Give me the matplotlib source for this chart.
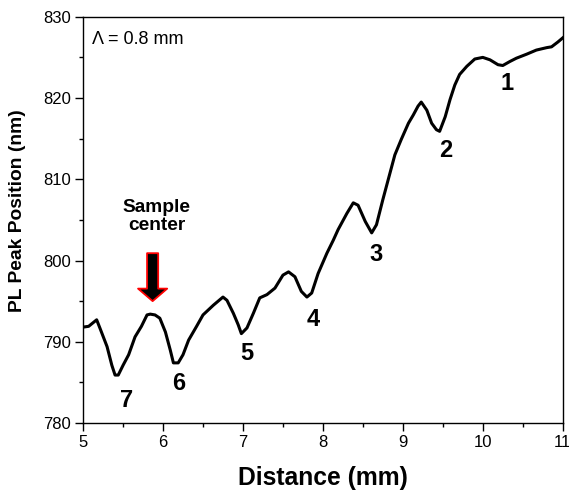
import numpy as np
import matplotlib
matplotlib.use("Agg")
import matplotlib.pyplot as plt
from matplotlib.ticker import MultipleLocator

plt.rcParams['font.family'] = ['Liberation Sans', 'DejaVu Sans']

# PL peak position vs distance
distance = [5.00, 5.07, 5.17, 5.21, 5.30, 5.36, 5.40, 5.44, 5.50, 5.57, 5.65, 5.73,
            5.80, 5.84, 5.90, 5.96, 6.03, 6.09, 6.13, 6.19, 6.25, 6.32, 6.42, 6.50,
            6.63, 6.75, 6.80, 6.88, 6.94, 6.98, 7.05, 7.13, 7.21, 7.30, 7.40, 7.50,
            7.57, 7.65, 7.73, 7.80, 7.86, 7.94, 8.05, 8.13, 8.19, 8.30, 8.38, 8.44,
            8.53, 8.61, 8.67, 8.75, 8.84, 8.90, 8.98, 9.07, 9.13, 9.19, 9.23, 9.30,
            9.36, 9.42, 9.46, 9.53, 9.59, 9.65, 9.71, 9.80, 9.90, 10.00, 10.09, 10.19,
            10.25, 10.34, 10.42, 10.55, 10.67, 10.80, 10.86, 10.94, 11.00]
peak_nm = [791.8, 791.9, 792.7, 791.7, 789.4, 787.1, 785.9, 785.9, 787.1, 788.4, 790.6, 791.9,
           793.3, 793.4, 793.3, 792.9, 791.2, 789.0, 787.4, 787.4, 788.4, 790.2, 791.9, 793.3,
           794.5, 795.5, 795.1, 793.5, 792.1, 791.0, 791.7, 793.5, 795.4, 795.8, 796.6, 798.2,
           798.6, 798.0, 796.2, 795.5, 796.0, 798.4, 800.9, 802.5, 803.8, 805.8, 807.1, 806.8,
           804.8, 803.4, 804.4, 807.5, 810.8, 813.0, 814.9, 816.9, 817.9, 819.0, 819.5, 818.5,
           816.9, 816.1, 815.9, 817.7, 819.8, 821.6, 822.9, 823.9, 824.8, 825.0, 824.7, 824.1,
           824.0, 824.5, 824.9, 825.4, 825.9, 826.2, 826.3, 826.9, 827.4]

# minima labels
label_text = ['1', '2', '3', '4', '5', '6', '7']
label_x = [10.30, 9.54, 8.66, 7.88, 7.05, 6.20, 5.55]
label_y = [821.8, 813.6, 800.7, 792.7, 788.6, 784.9, 782.8]

fig = plt.figure(figsize=(5.69, 4.93), dpi=100)
ax = fig.add_axes([0.146, 0.142, 0.843, 0.824])

ax.plot(distance, peak_nm, color='k', linewidth=2.2)

ax.set_xlim(5, 11)
ax.set_ylim(780, 830)
ax.xaxis.set_major_locator(MultipleLocator(1))
ax.xaxis.set_minor_locator(MultipleLocator(0.5))
ax.yaxis.set_major_locator(MultipleLocator(10))
ax.yaxis.set_minor_locator(MultipleLocator(5))
ax.tick_params(which='major', direction='out', length=5.5, width=1, labelsize=12, pad=3)
ax.tick_params(which='minor', direction='out', length=3, width=1)
for s in ax.spines.values():
    s.set_linewidth(1)

ax.set_xlabel('Distance (mm)', fontsize=17.7, fontweight='bold', labelpad=12)
ax.set_ylabel('PL Peak Position (nm)', fontsize=13.9, fontweight='bold')
ax.yaxis.set_label_coords(-0.118, 0.522)

for t, x, y in zip(label_text, label_x, label_y):
    ax.text(x, y, t, fontsize=17, fontweight='bold', ha='center', va='center')

ax.text(5.11, 827.2, '\u039b = 0.8 mm', fontsize=13, ha='left', va='center')

# sample center arrow
ax.text(5.917, 805.4, 'Sample\ncenter', fontsize=13.8, fontweight='bold',
        ha='center', va='center', linespacing=1.05)
ax.annotate('', xy=(5.87, 795.0), xytext=(5.87, 800.9),
            arrowprops=dict(facecolor='black', edgecolor='red', linewidth=1.3,
                            width=8, headwidth=21, headlength=9, shrink=0))

fig.savefig('out.png', dpi=100)
